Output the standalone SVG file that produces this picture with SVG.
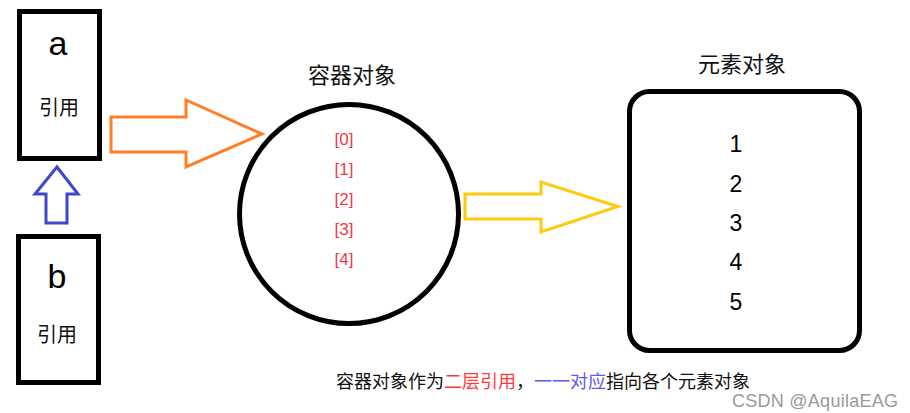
<svg xmlns="http://www.w3.org/2000/svg" width="910" height="413" viewBox="0 0 910 413">
<style>
.box{fill:#fff;stroke:#000;stroke-width:5}
.big{font-family:"Liberation Sans",Arial,sans-serif;font-size:34px;fill:#000;text-anchor:middle}
.cjk{font-family:"Noto Sans CJK SC",sans-serif;fill:#111;text-anchor:middle;dominant-baseline:central}
.ref{font-size:20px}
.title{font-size:22px}
.idx{font-family:"Liberation Sans",Arial,sans-serif;font-size:17px;fill:#F0384A;text-anchor:middle}
.num{font-family:"Liberation Sans",Arial,sans-serif;font-size:23px;fill:#000;text-anchor:middle}
.arrow{fill:#fff;stroke-width:3;stroke-linejoin:miter}
.cap{font-family:"Noto Sans CJK SC",sans-serif;font-size:18px;fill:#111;dominant-baseline:central}
.red{fill:#FF3A3A}
.blue{fill:#5A5AEE}
.wm{font-family:"Liberation Sans",Arial,sans-serif;font-size:18px;fill:#9a9a9a;text-anchor:end}
</style>
<rect width="910" height="413" fill="#fff"/>
<g id="connectors">
<polygon class="arrow" stroke="#FF7F27" points="111,117 186,117 186,100 262,134 186,167 186,152 111,152"/>
<polygon class="arrow" stroke="#FFC90E" points="465,194 541,194 541,182 618,206.5 541,232 541,219 465,219"/>
<polygon class="arrow" stroke="#3F48CC" points="57,167 78,194 67,194 67,223 46,223 46,194 35,194"/>
</g>
<g id="ref-a">
<rect class="box" x="19.5" y="11.5" width="80" height="147"/>
<text class="big" x="58" y="55">a</text>
<text class="cjk ref" x="59" y="106">引用</text>
</g>
<g id="ref-b">
<rect class="box" x="18.5" y="236.5" width="80" height="146"/>
<text class="big" x="57" y="288">b</text>
<text class="cjk ref" x="57" y="333">引用</text>
</g>
<g id="container">
<text class="cjk title" x="352" y="73">容器对象</text>
<circle cx="349" cy="214" r="109.5" fill="#fff" stroke="#000" stroke-width="5"/>
<text class="idx" x="344" y="144.5">[0]</text>
<text class="idx" x="344" y="174.5">[1]</text>
<text class="idx" x="344" y="204.5">[2]</text>
<text class="idx" x="344" y="234.5">[3]</text>
<text class="idx" x="344" y="264.5">[4]</text>
</g>
<g id="elements">
<text class="cjk title" x="742" y="62">元素对象</text>
<rect class="box" x="629.5" y="91.5" width="230" height="259" rx="20" ry="20"/>
<text class="num" x="736" y="152">1</text>
<text class="num" x="736" y="192">2</text>
<text class="num" x="736" y="231">3</text>
<text class="num" x="736" y="270">4</text>
<text class="num" x="736" y="310">5</text>
</g>
<g id="caption">
<text class="cap" x="336" y="380">容器对象作为<tspan class="red">二层引用</tspan>，<tspan class="blue">一一对应</tspan>指向各个元素对象</text>
</g>
<text class="wm" x="898" y="407" textLength="166" lengthAdjust="spacing">CSDN @AquilaEAG</text>
</svg>
